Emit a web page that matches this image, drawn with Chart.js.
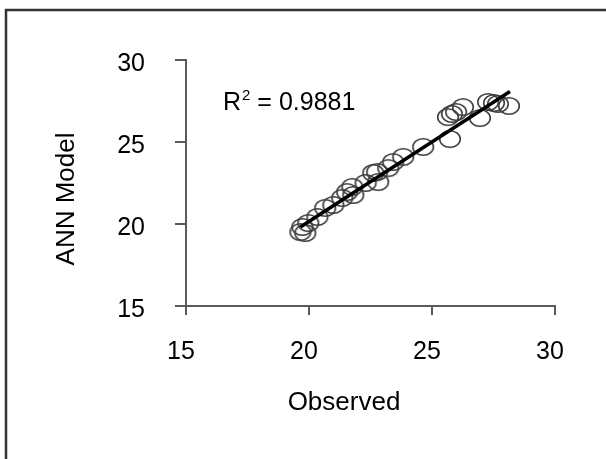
<!DOCTYPE html>
<html>
<head>
<meta charset="utf-8">
<script src="https://cdn.jsdelivr.net/npm/chart.js@4.4.1/dist/chart.umd.min.js"></script>
<style>
  html, body { margin: 0; padding: 0; background: #fff; }
  #wrap { position: relative; width: 606px; height: 459px; }
</style>
</head>
<body>
<div id="wrap"><canvas id="annChart"></canvas></div>
<script>
// observed vs ANN model values
const observed = [19.65, 19.85, 19.73, 19.97, 20.34, 20.66, 20.99, 21.35, 21.80, 21.76,
                  21.55, 22.30, 22.61, 22.81, 22.77, 23.22, 23.42, 23.83, 24.64, 25.73,
                  25.65, 25.81, 25.98, 26.26, 26.95, 27.28, 27.52, 27.68, 28.13];
const annModel = [19.51, 19.45, 19.82, 20.06, 20.43, 20.98, 21.16, 21.59, 21.77, 22.26,
                  21.95, 22.50, 23.11, 22.56, 23.17, 23.41, 23.78, 24.09, 24.70, 25.18,
                  26.52, 26.71, 26.83, 27.13, 26.46, 27.44, 27.38, 27.32, 27.20];
const trendX = [19.65, 28.17];
const trendY = [19.82, 28.08];
const axisTicks = [15, 20, 25, 30];
const rSquared = '0.9881';

const fontFamily = '"Liberation Sans", Arial, sans-serif';
const axisColor = '#5a5a5a';

// open ellipse marker, a bit wider than tall
function makeEllipse() {
    const c = document.createElement('canvas');
    c.width = 24;
    c.height = 20;
    const g = c.getContext('2d');
    g.strokeStyle = '#3c3c3c';
    g.lineWidth = 1.6;
    g.beginPath();
    g.ellipse(12, 10, 10.3, 8.3, 0, 0, Math.PI * 2);
    g.stroke();
    return c;
}

const frameAndText = {
    id: 'frameAndText',
    beforeDraw(chart) {
        const ctx = chart.ctx;
        ctx.save();
        ctx.fillStyle = '#fff';
        ctx.fillRect(0, 0, chart.width, chart.height);
        ctx.strokeStyle = '#333';
        ctx.lineWidth = 2.5;
        ctx.beginPath();
        ctx.moveTo(6, chart.height);
        ctx.lineTo(6, 10);
        ctx.lineTo(chart.width, 10);
        ctx.stroke();
        ctx.restore();
    },
    afterDraw(chart) {
        const ctx = chart.ctx;
        const area = chart.chartArea;
        ctx.save();
        ctx.fillStyle = '#000';

        // R squared label
        let x = area.left + 37;
        const y = area.top + 50;
        ctx.textBaseline = 'alphabetic';
        ctx.textAlign = 'left';
        ctx.font = '25px ' + fontFamily;
        ctx.fillText('R', x, y);
        x += ctx.measureText('R').width + 1;
        ctx.font = '15px ' + fontFamily;
        ctx.fillText('2', x, y - 10);
        x += ctx.measureText('2').width;
        ctx.font = '25px ' + fontFamily;
        ctx.fillText(' = ' + rSquared, x, y);

        // axis titles
        ctx.font = '26px ' + fontFamily;
        ctx.textAlign = 'center';
        ctx.textBaseline = 'middle';
        ctx.fillText('Observed', area.left + 158, area.bottom + 97);
        ctx.translate(67, area.top + 139);
        ctx.rotate(-Math.PI / 2);
        ctx.fillText('ANN Model', 0, 0);
        ctx.restore();
    }
};

const ctx = document.getElementById('annChart').getContext('2d');
new Chart(ctx, {
    type: 'scatter',
    data: {
        datasets: [{
            label: 'Trend',
            data: trendX.map((v, i) => ({ x: v, y: trendY[i] })),
            showLine: true,
            borderColor: '#000',
            borderWidth: 3.5,
            pointRadius: 0,
            order: 0
        }, {
            label: 'ANN Model',
            data: observed.map((v, i) => ({ x: v, y: annModel[i] })),
            pointStyle: makeEllipse(),
            pointRadius: 10,
            order: 1
        }]
    },
    options: {
        responsive: true,
        maintainAspectRatio: false,
        animation: false,
        devicePixelRatio: 1,
        layout: {
            padding: { left: 0, top: 60, right: 51, bottom: 0 }
        },
        plugins: {
            legend: { display: false },
            tooltip: { enabled: false }
        },
        scales: {
            x: {
                type: 'linear',
                min: 15,
                max: 30,
                afterFit: s => { s.height = 153; },
                afterBuildTicks: s => { s.ticks = axisTicks.map(v => ({ value: v })); },
                grid: {
                    drawOnChartArea: false,
                    drawTicks: true,
                    tickLength: 9,
                    color: axisColor,
                    lineWidth: 2
                },
                border: { display: true, color: axisColor, width: 2 },
                ticks: {
                    color: '#000',
                    padding: 22,
                    labelOffset: -5,
                    maxRotation: 0,
                    font: { family: fontFamily, size: 25 }
                }
            },
            y: {
                type: 'linear',
                min: 15,
                max: 30,
                afterFit: s => { s.width = 186; },
                afterBuildTicks: s => { s.ticks = axisTicks.map(v => ({ value: v })); },
                grid: {
                    drawOnChartArea: false,
                    drawTicks: true,
                    tickLength: 11,
                    color: axisColor,
                    lineWidth: 2
                },
                border: { display: true, color: axisColor, width: 2 },
                ticks: {
                    color: '#000',
                    padding: 30,
                    labelOffset: 4,
                    font: { family: fontFamily, size: 25 }
                }
            }
        }
    },
    plugins: [frameAndText]
});
</script>
</body>
</html>
